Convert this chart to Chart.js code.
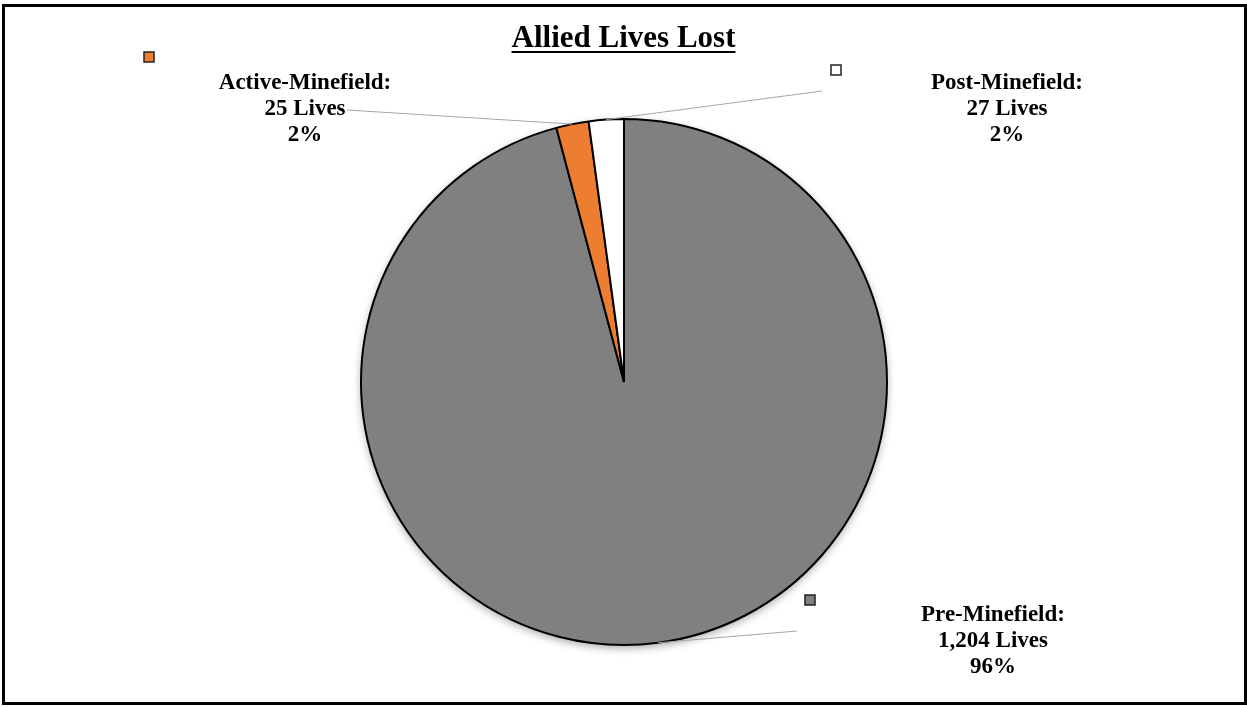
<!DOCTYPE html>
<html>
<head>
<meta charset="utf-8">
<script src="https://cdn.jsdelivr.net/npm/chart.js@4/dist/chart.umd.min.js"></script>
<style>
  html, body { margin: 0; padding: 0; background: #fff; }
  #wrap { position: relative; width: 1247px; height: 707px; }
  #frame { position: absolute; left: 2px; top: 4px; width: 1239px; height: 695px; border: 3px solid #000; pointer-events: none; }
  canvas { position: absolute; left: 0; top: 0; }
</style>
</head>
<body>
<div id="wrap">
  <canvas id="c" width="1247" height="707"></canvas>
  <div id="frame"></div>
</div>
<script>
const chartTitle = 'Allied Lives Lost';
const categories = ['Pre-Minefield', 'Active-Minefield', 'Post-Minefield'];
const lives = [1204, 25, 27];
const countLabels = ['1,204 Lives', '25 Lives', '27 Lives'];
const percentLabels = ['96%', '2%', '2%'];
const sliceColors = ['#808080', '#ED7D31', '#FFFFFF'];

// label layout: text centre x / middle-line baseline, marker centre, leader-line start (relative to pie centre)
const labelLayout = [
  { tx: 369, ty: 265, mx: 186, my: 218, lx: 173, ly: 249 },
  { tx: -319, ty: -267, mx: -475, my: -325, lx: -277, ly: -272 },
  { tx: 383, ty: -267, mx: 212, my: -312, lx: 198, ly: -291 }
];

const shadowPlugin = {
  id: 'shadowPlugin',
  beforeDatasetsDraw(chart) {
    const arc = chart.getDatasetMeta(0).data[0];
    if (!arc) return;
    const p = arc.getProps(['x', 'y', 'outerRadius'], true);
    const ctx = chart.ctx;
    ctx.save();
    ctx.shadowColor = 'rgba(0,0,0,0.35)';
    ctx.shadowBlur = 8;
    ctx.shadowOffsetY = 3;
    ctx.fillStyle = '#808080';
    ctx.beginPath();
    ctx.arc(p.x, p.y, p.outerRadius, 0, Math.PI * 2);
    ctx.fill();
    ctx.restore();
  }
};

const labelPlugin = {
  id: 'labelPlugin',
  afterDatasetsDraw(chart) {
    const ctx = chart.ctx;
    const meta = chart.getDatasetMeta(0);
    ctx.save();
    // title
    ctx.font = 'bold 31px "Liberation Serif"';
    ctx.fillStyle = '#000';
    ctx.textAlign = 'center';
    ctx.textBaseline = 'alphabetic';
    const tcx = chart.width / 2;
    ctx.fillText(chartTitle, tcx, 47);
    const tw = ctx.measureText(chartTitle).width;
    ctx.fillRect(tcx - tw / 2, 51, tw, 2);

    meta.data.forEach((arc, i) => {
      const p = arc.getProps(['x', 'y', 'startAngle', 'endAngle', 'outerRadius'], true);
      const mid = (p.startAngle + p.endAngle) / 2;
      const ex = p.x + Math.cos(mid) * p.outerRadius;
      const ey = p.y + Math.sin(mid) * p.outerRadius;
      const L = labelLayout[i];
      // leader line
      ctx.strokeStyle = '#A6A6A6';
      ctx.lineWidth = 1;
      ctx.beginPath();
      ctx.moveTo(p.x + L.lx, p.y + L.ly);
      ctx.lineTo(ex, ey);
      ctx.stroke();
      // marker
      ctx.fillStyle = sliceColors[i];
      ctx.fillRect(p.x + L.mx - 5, p.y + L.my - 5, 10, 10);
      ctx.strokeStyle = '#222';
      ctx.lineWidth = 1.5;
      ctx.strokeRect(p.x + L.mx - 5, p.y + L.my - 5, 10, 10);
      // text
      ctx.fillStyle = '#000';
      ctx.font = 'bold 23px "Liberation Serif"';
      ctx.textAlign = 'center';
      ctx.textBaseline = 'alphabetic';
      const lines = [categories[i] + ':', countLabels[i], percentLabels[i]];
      lines.forEach((t, k) => ctx.fillText(t, p.x + L.tx, p.y + L.ty + (k - 1) * 26));
    });
    ctx.restore();
  }
};

new Chart(document.getElementById('c'), {
  type: 'pie',
  data: {
    labels: categories,
    datasets: [{
      data: lives,
      backgroundColor: sliceColors,
      borderColor: '#000',
      borderWidth: 2
    }]
  },
  options: {
    responsive: false,
    animation: false,
    layout: { padding: { top: 118, bottom: 61, left: 1, right: 0 } },
    plugins: {
      legend: { display: false },
      title: { display: false },
      tooltip: { enabled: false }
    }
  },
  plugins: [shadowPlugin, labelPlugin]
});
</script>
</body>
</html>
